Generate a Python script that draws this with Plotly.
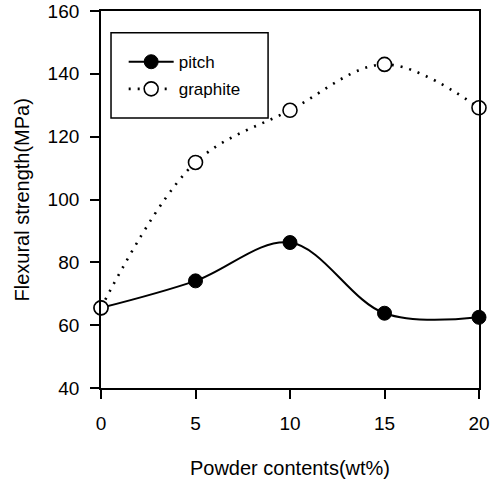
import plotly.graph_objects as go

powder = [0, 5, 10, 15, 20]
pitch = [65.5, 74.1, 86.3, 63.8, 62.5]
graphite = [65.5, 111.8, 128.4, 143.0, 129.2]
x_ticks = [0, 5, 10, 15, 20]
y_ticks = [40, 60, 80, 100, 120, 140, 160]

font = "Liberation Sans, Arial, sans-serif"
fig = go.Figure()
fig.add_trace(go.Scatter(
    x=powder, y=pitch, name="pitch", mode="lines+markers", legendgroup="a",
    line=dict(color="black", width=2, shape="spline", smoothing=1),
    marker=dict(symbol="circle", size=14, color="black", line=dict(color="black", width=1)),
))
fig.add_trace(go.Scatter(
    x=powder, y=graphite, name="graphite", mode="lines+markers", legendgroup="b",
    line=dict(color="black", width=2.6, dash="2px,7px", shape="spline", smoothing=1),
    marker=dict(symbol="circle", size=14, color="white", line=dict(color="black", width=1.6)),
))
fig.add_shape(type="rect", xref="paper", yref="paper",
              x0=0.0265, x1=0.442, y0=0.716, y1=0.942,
              line=dict(color="black", width=1.5), fillcolor="white", layer="below")
fig.add_annotation(text="Flexural strength(MPa)", xref="paper", yref="paper",
                   x=-0.209, y=0.5, xanchor="center", yanchor="middle",
                   textangle=-90, showarrow=False,
                   font=dict(size=20, color="black", family=font))
fig.update_layout(
    template="none",
    width=496, height=483,
    margin=dict(l=101, r=17, t=11, b=95),
    paper_bgcolor="white", plot_bgcolor="white",
    font=dict(family=font, color="black", size=17),
    legend=dict(x=0.06, y=0.912, xanchor="left", yanchor="top",
                borderwidth=0, bgcolor="rgba(0,0,0,0)",
                font=dict(size=17, color="black"), itemwidth=45, tracegroupgap=2),
    xaxis=dict(range=[0, 20], tickvals=x_ticks, ticks="outside", ticklen=9,
               tickwidth=1.8, tickcolor="black", showline=True, linecolor="black", linewidth=1.8,
               mirror=True, showgrid=False, zeroline=False, automargin=False,
               tickfont=dict(size=19, color="black"), ticklabelstandoff=8,
               title=dict(text="Powder contents(wt%)", font=dict(size=20, color="black"), standoff=28)),
    yaxis=dict(range=[40, 160], tickvals=y_ticks, ticks="outside", ticklen=9,
               tickwidth=1.8, tickcolor="black", showline=True, linecolor="black", linewidth=1.8,
               mirror=True, showgrid=False, zeroline=False, automargin=False,
               tickfont=dict(size=19, color="black"), ticklabelstandoff=7),
)
fig.update_traces(cliponaxis=False)
fig.write_html("out.html")
